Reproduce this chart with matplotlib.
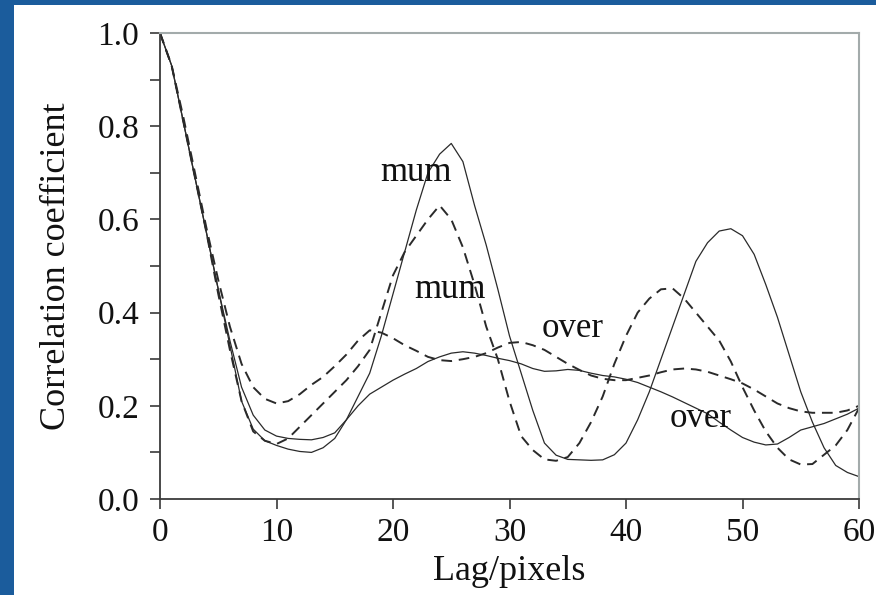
import matplotlib
matplotlib.use("Agg")
import matplotlib.pyplot as plt
from matplotlib.patches import Rectangle
from matplotlib.ticker import MultipleLocator

lags = list(range(61))

solid_mum = [1.0, 0.93, 0.81, 0.69, 0.57, 0.45, 0.33, 0.21, 0.15, 0.125,
             0.115, 0.107, 0.102, 0.10, 0.11, 0.13, 0.17, 0.22, 0.27, 0.35,
             0.44, 0.53, 0.62, 0.70, 0.74, 0.763, 0.724, 0.63, 0.545, 0.45,
             0.35, 0.27, 0.19, 0.12, 0.094, 0.085, 0.084, 0.083, 0.084, 0.095,
             0.12, 0.17, 0.23, 0.30, 0.37, 0.44, 0.51, 0.55, 0.575, 0.58,
             0.565, 0.525, 0.46, 0.39, 0.31, 0.23, 0.165, 0.11, 0.072, 0.057,
             0.048]

solid_over = [1.0, 0.93, 0.81, 0.69, 0.57, 0.45, 0.34, 0.24, 0.18, 0.148,
              0.135, 0.13, 0.128, 0.127, 0.132, 0.142, 0.17, 0.20, 0.225, 0.24,
              0.255, 0.268, 0.28, 0.295, 0.305, 0.313, 0.316, 0.313, 0.308, 0.302,
              0.297, 0.29, 0.28, 0.274, 0.275, 0.278, 0.276, 0.27, 0.265, 0.262,
              0.257, 0.25, 0.24, 0.23, 0.219, 0.207, 0.195, 0.183, 0.165, 0.148,
              0.132, 0.122, 0.116, 0.118, 0.132, 0.148, 0.155, 0.162, 0.172, 0.182,
              0.195]

dashed_mum = [1.0, 0.93, 0.81, 0.69, 0.57, 0.44, 0.32, 0.21, 0.145, 0.125,
              0.118, 0.13, 0.155, 0.18, 0.205, 0.23, 0.255, 0.285, 0.32, 0.40,
              0.48, 0.53, 0.565, 0.60, 0.63, 0.60, 0.54, 0.46, 0.37, 0.30,
              0.21, 0.135, 0.105, 0.085, 0.082, 0.09, 0.12, 0.165, 0.22, 0.29,
              0.35, 0.40, 0.43, 0.45, 0.452, 0.43, 0.40, 0.37, 0.34, 0.295,
              0.24, 0.19, 0.145, 0.11, 0.085, 0.074, 0.075, 0.095, 0.115, 0.148,
              0.195]

dashed_over = [1.0, 0.93, 0.82, 0.70, 0.58, 0.47, 0.37, 0.29, 0.24, 0.215,
               0.205, 0.21, 0.225, 0.245, 0.262, 0.285, 0.31, 0.34, 0.362, 0.357,
               0.345, 0.33, 0.318, 0.305, 0.298, 0.296, 0.30, 0.305, 0.313, 0.325,
               0.335, 0.337, 0.33, 0.32, 0.305, 0.29, 0.277, 0.265, 0.258, 0.255,
               0.255, 0.26, 0.265, 0.272, 0.278, 0.28, 0.278, 0.273, 0.265, 0.257,
               0.248, 0.235, 0.22, 0.205, 0.195, 0.188, 0.185, 0.185, 0.185, 0.19,
               0.2]

# label text and where it sits (lag, coefficient)
labels = ["mum", "mum", "over", "over"]
label_x = [22.0, 24.9, 35.4, 46.4]
label_y = [0.70, 0.45, 0.365, 0.172]

plt.rcParams["font.family"] = ["Liberation Serif", "DejaVu Serif"]

fig = plt.figure(figsize=(8.76, 5.95), dpi=100, facecolor="#1b5c9c")
# white slide panel behind the chart, blue strip left and top
panel = Rectangle((14 / 876, 0), 1, 1 - 5 / 595, transform=fig.transFigure,
                  facecolor="white", edgecolor="none", zorder=-5)
fig.add_artist(panel)

ax = fig.add_axes([160 / 876, 1 - 499 / 595, (859 - 160) / 876, (499 - 33) / 595])
ax.set_zorder(2)
ax.set_facecolor("white")

ink = "#2a2a2a"
ax.plot(lags, solid_mum, color=ink, lw=0.9)
ax.plot(lags, solid_over, color=ink, lw=0.9)
ax.plot(lags, dashed_mum, color=ink, lw=1.4, dashes=(5.5, 3.5))
ax.plot(lags, dashed_over, color=ink, lw=1.4, dashes=(5.5, 3.5))

for txt, x, y in zip(labels, label_x, label_y):
    ax.text(x, y, txt, ha="center", va="center", fontsize=25, color="#111111")

ax.set_xlim(0, 60)
ax.set_ylim(0, 1.0)
ax.xaxis.set_major_locator(MultipleLocator(10))
ax.yaxis.set_major_locator(MultipleLocator(0.2))
ax.yaxis.set_minor_locator(MultipleLocator(0.1))
ax.yaxis.set_major_formatter(plt.FuncFormatter(lambda v, _: f"{v:.1f}"))

for side in ("top", "right"):
    ax.spines[side].set_color("#a3abab")
    ax.spines[side].set_linewidth(1.5)
for side in ("left", "bottom"):
    ax.spines[side].set_color("#3a3a3a")
    ax.spines[side].set_linewidth(1.3)

ax.tick_params(axis="both", which="both", direction="out", color="#3a3a3a",
               width=1.2, labelsize=24, labelcolor="#111111")
ax.tick_params(axis="y", which="both", length=7, pad=8)
ax.tick_params(axis="x", which="major", length=7, pad=6)

fig.text(57 / 876, 1 - 266 / 595, "Correlation coefficient", rotation=90,
         ha="center", va="center", fontsize=26, color="#111111")
fig.text(509 / 876, 1 - 572 / 595, "Lag/pixels", ha="center", va="center",
         fontsize=26, color="#111111")

fig.savefig("out.png", dpi=100, facecolor=fig.get_facecolor())
